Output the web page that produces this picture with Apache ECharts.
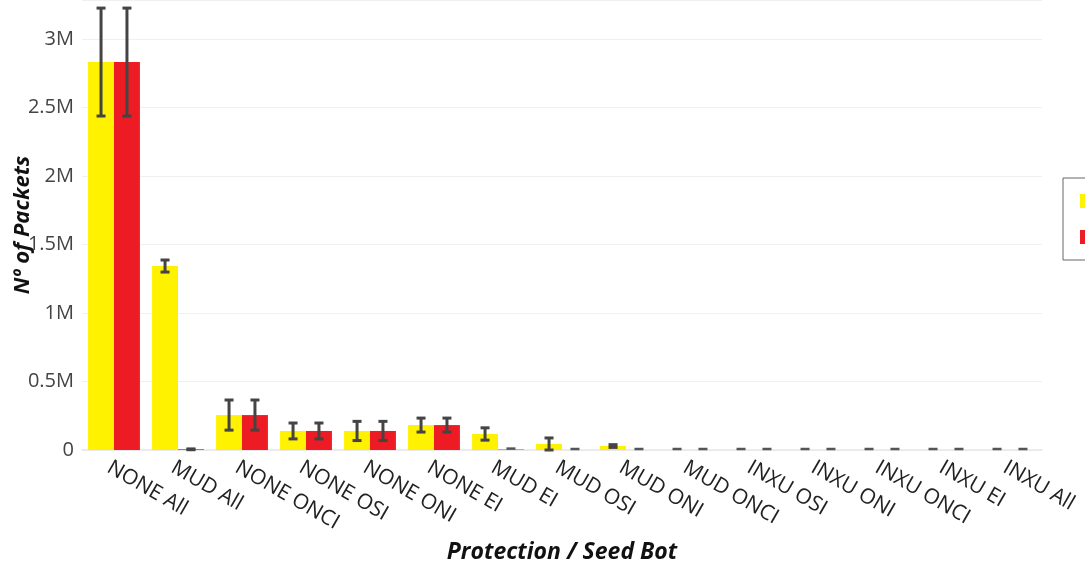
<!DOCTYPE html>
<html><head><meta charset="utf-8">
<script src="https://cdn.jsdelivr.net/npm/echarts@6/dist/echarts.min.js"></script>
<style>html,body{margin:0;padding:0;background:#fff;overflow:hidden}#c{width:1085px;height:562px}</style>
</head><body><div id="c"></div>
<script>
const categories = ['NONE All','MUD All','NONE ONCI','NONE OSI','NONE ONI','NONE EI','MUD EI','MUD OSI','MUD ONI','MUD ONCI','INXU OSI','INXU ONI','INXU ONCI','INXU EI','INXU All'];
const seriesNames = ['Sent','Received'];
const yellowValues = [2832000,1343000,255000,139000,139000,182000,117000,44000,29000,0,0,0,0,0,0];
const yellowErrors = [394000,44000,110000,58000,70000,51000,45000,44000,10000,0,0,0,0,0,0];
const redValues = [2832000,5000,255000,139000,139000,182000,3000,0,0,0,0,0,0,0,0];
const redErrors = [394000,3000,110000,58000,70000,51000,0,0,0,0,0,0,0,0,0];
const yTicks = [0,500000,1000000,1500000,2000000,2500000,3000000];

const colors = ['#FFF200','#ED1C24'];
const catGap = 0.19;

function errSeries(vals, errs, side){
  return {
    type:'custom', silent:true, z:10,
    data: vals.map((v,i)=>[i, v, errs[i]]),
    renderItem: function(params, api){
      const i = api.value(0), v = api.value(1), e = api.value(2);
      const band = api.size([1,0])[0];
      const bw = band*(1-catGap)/2;
      const c = api.coord([i, v]);
      const x = c[0] + side*bw/2;
      const top = api.coord([i, v+e])[1];
      const bot = api.coord([i, Math.max(v-e,0)])[1];
      const cap = 4.5;
      const st = {stroke:'#444', lineWidth:3};
      if (e === 0) {
        return {type:'line', shape:{x1:x-cap, y1:c[1]-1, x2:x+cap, y2:c[1]-1}, style:{stroke:'#555', lineWidth:2.5}};
      }
      return {type:'group', children:[
        {type:'line', shape:{x1:x, y1:top, x2:x, y2:bot}, style:st},
        {type:'line', shape:{x1:x-cap, y1:top, x2:x+cap, y2:top}, style:st},
        {type:'line', shape:{x1:x-cap, y1:bot, x2:x+cap, y2:bot}, style:st}
      ]};
    }
  };
}

const chart = echarts.init(document.getElementById('c'));
chart.setOption({
  animation:false,
  textStyle:{fontFamily:'Open Sans'},
  grid:{left:82, right:43, top:0, bottom:112, containLabel:false, outerBoundsMode:'none'},
  legend:{
    data:seriesNames, orient:'vertical', left:1063, top:178,
    itemWidth:20, itemHeight:14, itemGap:20, icon:'rect',
    padding:[15,10,15,17], borderColor:'#666', borderWidth:1,
    textStyle:{fontSize:16, color:'#444'}
  },
  xAxis:{
    type:'category', data:categories,
    name:'Protection / Seed Bot', nameLocation:'middle', nameGap:91, nameMoveOverlap:false,
    nameTextStyle:{fontSize:23, fontWeight:'bold', fontStyle:'italic', color:'#111'},
    axisLine:{lineStyle:{color:'#e3e6ec', width:1.5}},
    axisTick:{show:false},
    axisLabel:{rotate:-30, interval:0, fontSize:21, color:'#222', margin:19, padding:[0,0,0,-6]}
  },
  yAxis:{
    type:'value', min:0, max:3285000, interval:500000,
    name:'Nº of Packets', nameLocation:'middle', nameGap:48, nameMoveOverlap:false,
    nameTextStyle:{fontSize:22, fontWeight:'bold', fontStyle:'italic', color:'#111'},
    axisLine:{show:false}, axisTick:{show:false},
    splitLine:{lineStyle:{color:'#f0f0f0'}},
    axisLabel:{fontSize:20, color:'#444', margin:8, showMaxLabel:false,
      formatter:function(v){ if(yTicks.indexOf(v)<0) return ''; return v===0?'0':(v/1e6)+'M'; }}
  },
  series:[
    {name:seriesNames[0], type:'bar', data:yellowValues, barGap:'0%', barCategoryGap:(catGap*100)+'%', itemStyle:{color:colors[0]}},
    {name:seriesNames[1], type:'bar', data:redValues, barGap:'0%', barCategoryGap:(catGap*100)+'%', itemStyle:{color:colors[1]}},
    errSeries(yellowValues, yellowErrors, -1),
    errSeries(redValues, redErrors, 1)
  ]
});
</script></body></html>
